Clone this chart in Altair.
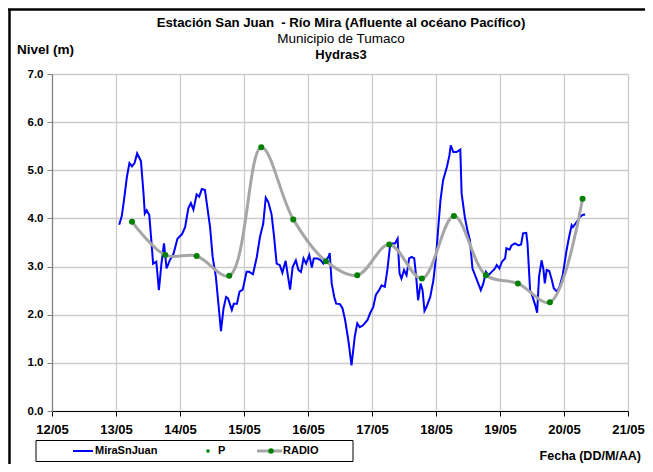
import altair as alt
import pandas as pd

# ---- data (day of May, fractional) ----
mira_day = [13.05, 13.09, 13.125, 13.17, 13.21, 13.25, 13.29, 13.33, 13.39, 13.43, 13.45, 13.48, 13.52,
            13.56, 13.58, 13.63, 13.67, 13.71, 13.75, 13.79, 13.84, 13.90, 13.96, 14.03, 14.08, 14.13,
            14.17, 14.21, 14.26, 14.30, 14.34, 14.39, 14.47, 14.51, 14.56, 14.60, 14.64, 14.68, 14.72,
            14.75, 14.81, 14.84, 14.89, 14.93, 14.98, 15.04, 15.08, 15.14, 15.20, 15.25, 15.30, 15.34,
            15.38, 15.43, 15.47, 15.51, 15.56, 15.60, 15.65, 15.72, 15.76, 15.81, 15.85, 15.89, 15.93,
            15.97, 16.02, 16.06, 16.09, 16.15, 16.20, 16.24, 16.28, 16.32, 16.34, 16.37, 16.41, 16.44,
            16.50, 16.54, 16.58, 16.63, 16.68, 16.73, 16.77, 16.81, 16.86, 16.93, 16.97, 17.02, 17.06,
            17.11, 17.15, 17.20, 17.24, 17.28, 17.32, 17.36, 17.40, 17.43, 17.46, 17.50, 17.54, 17.58,
            17.62, 17.66, 17.69, 17.72, 17.76, 17.79, 17.82, 17.85, 17.91, 17.96, 18.00, 18.04, 18.07,
            18.11, 18.17, 18.21, 18.23, 18.27, 18.32, 18.38, 18.40, 18.45, 18.49, 18.53, 18.57, 18.64,
            18.70, 18.74, 18.78, 18.82, 18.87, 18.91, 18.95, 18.99, 19.03, 19.08, 19.10, 19.15, 19.18,
            19.23, 19.29, 19.33, 19.36, 19.41, 19.43, 19.47, 19.51, 19.55, 19.58, 19.61, 19.65, 19.68,
            19.70, 19.73, 19.77, 19.81, 19.84, 19.89, 19.93, 19.98, 20.04, 20.08, 20.12, 20.14, 20.20,
            20.25, 20.29, 20.33]
mira_val = [3.87, 4.05, 4.38, 4.86, 5.15, 5.08, 5.15, 5.35, 5.19, 4.52, 4.10, 4.17, 4.07,
            3.41, 3.06, 3.10, 2.51, 3.06, 3.48, 2.96, 3.13, 3.27, 3.58, 3.67, 3.82, 4.21,
            4.32, 4.18, 4.50, 4.45, 4.61, 4.59, 3.82, 3.20, 2.79, 2.23, 1.66, 2.13, 2.37,
            2.34, 2.10, 2.23, 2.23, 2.48, 2.52, 2.89, 2.89, 2.84, 3.20, 3.62, 3.89, 4.43,
            4.34, 4.09, 3.62, 3.06, 3.03, 2.87, 3.12, 2.52, 2.99, 3.13, 2.93, 2.89, 3.17,
            3.06, 3.24, 2.98, 3.17, 3.17, 3.13, 3.06, 3.13, 3.20, 3.28, 2.65, 2.37, 2.23,
            2.22, 2.13, 1.89, 1.47, 0.95, 1.54, 1.82, 1.74, 1.78, 1.89, 2.03, 2.16, 2.41,
            2.51, 2.61, 2.58, 2.93, 3.41, 3.48, 3.48, 3.58, 2.86, 2.75, 2.93, 2.82, 3.17,
            3.20, 3.17, 2.79, 2.30, 2.65, 2.51, 2.08, 2.16, 2.37, 2.72, 3.20, 3.89, 4.38,
            4.79, 5.07, 5.31, 5.52, 5.38, 5.38, 5.43, 4.52, 4.03, 3.76, 3.55, 2.96, 2.72,
            2.51, 2.65, 2.89, 2.82, 2.89, 2.94, 3.03, 2.96, 3.10, 3.17, 3.38, 3.35, 3.44,
            3.48, 3.44, 3.46, 3.69, 3.70, 3.48, 2.51, 2.37, 2.20, 2.04, 2.79, 3.13, 2.93,
            2.65, 2.93, 2.91, 2.72, 2.55, 2.48, 2.58, 2.82, 3.34, 3.62, 3.86, 3.82, 3.93,
            4.03, 4.07, 4.08]

radio_day = [13.25, 13.77, 14.26, 14.77, 15.27, 15.77, 16.28, 16.77, 17.27, 17.78, 18.28, 18.78,
             19.28, 19.78, 20.29]
radio_val = [3.93, 3.24, 3.22, 2.81, 5.48, 3.98, 3.11, 2.82, 3.46, 2.75, 4.05, 2.82,
             2.65, 2.26, 4.41]

x_ticks = [12, 13, 14, 15, 16, 17, 18, 19, 20, 21]
y_ticks = [0, 1, 2, 3, 4, 5, 6, 7]

title_main = "Estación San Juan\u00a0 - Río Mira (Afluente al océano Pacífico)"
title_sub = "Municipio de Tumaco"
title_sub2 = "Hydras3"
y_title = "Nivel (m)"
x_title = "Fecha (DD/M/AA)"
legend_names = ["MiraSnJuan", "P", "RADIO"]

FONT = "Liberation Sans"
W, H = 576, 337

mira = pd.DataFrame({"d": mira_day, "v": mira_val})
radio = pd.DataFrame({"d": radio_day, "v": radio_val})

xs = alt.Scale(domain=[12, 21], nice=False, zero=False)
ys = alt.Scale(domain=[0, 7], nice=False)

xaxis = alt.Axis(values=x_ticks, labelExpr="(datum.value < 10 ? '0' : '') + datum.value + '/05'",
                 title=None, grid=True, gridColor="#cccccc", gridWidth=1.3,
                 domainColor="#000000", domainWidth=1.2, tickColor="#000000", tickSize=5,
                 labelFont=FONT, labelFontSize=13, labelFontWeight="bold", labelColor="#000000",
                 labelPadding=7, labelFlush=False)
yaxis = alt.Axis(values=y_ticks, format=".1f", title=None, grid=True, gridColor="#cccccc",
                 gridWidth=1.3, domainColor="#808080", domainWidth=1.2, tickColor="#808080",
                 tickSize=5, labelFont=FONT, labelFontSize=11.5, labelFontWeight="bold",
                 labelColor="#000000", labelPadding=4)

base_x = alt.X("d:Q", scale=xs, axis=xaxis)
base_y = alt.Y("v:Q", scale=ys, axis=yaxis)

mira_line = alt.Chart(mira).mark_line(color="#0000ff", strokeWidth=2).encode(x=base_x, y=base_y)
radio_line = alt.Chart(radio).mark_line(color="#a6a6a6", strokeWidth=3, interpolate="catmull-rom").encode(
    x=alt.X("d:Q", scale=xs), y=alt.Y("v:Q", scale=ys))
radio_pts = alt.Chart(radio).mark_point(filled=True, shape="circle", color="#008000", size=36, opacity=1).encode(
    x=alt.X("d:Q", scale=xs), y=alt.Y("v:Q", scale=ys))

one = pd.DataFrame({"a": [0]})


def txt(s, x, y, size=12, weight="bold", align="center"):
    return alt.Chart(one).mark_text(text=s, font=FONT, fontSize=size, fontWeight=weight, align=align,
                                    baseline="middle", color="#000000").encode(x=alt.value(x), y=alt.value(y))


titles = [
    txt(title_main, 289, -51, 13.2),
    txt(title_sub, 289, -35, 13.5, "normal"),
    txt(title_sub2, 289, -19, 13),
    txt(y_title, -35, -24, 13.5, align="left"),
    txt(x_title, 589, 382, 12.5, align="right"),
]

# frame (top and left)
frame_top = alt.Chart(one).mark_rule(color="#000000", strokeWidth=2.5).encode(
    x=alt.value(-44), x2=alt.value(593), y=alt.value(-64.5))
frame_left = alt.Chart(one).mark_rule(color="#000000", strokeWidth=2.5).encode(
    x=alt.value(-42.5), y=alt.value(-65), y2=alt.value(400))

# legend box
LY = 377
leg_box = alt.Chart(one).mark_rect(fill="#ffffff", stroke="#000000", strokeWidth=1).encode(
    x=alt.value(-16), x2=alt.value(301), y=alt.value(LY - 10.5), y2=alt.value(LY + 10.5))
leg_blue = alt.Chart(one).mark_rule(color="#0000ff", strokeWidth=2).encode(
    x=alt.value(21), x2=alt.value(41), y=alt.value(LY))
leg_p = alt.Chart(one).mark_square(color="#008000", size=10, opacity=1).encode(
    x=alt.value(156), y=alt.value(LY))
leg_grey = alt.Chart(one).mark_rule(color="#a6a6a6", strokeWidth=3).encode(
    x=alt.value(205), x2=alt.value(230), y=alt.value(LY))
leg_dot = alt.Chart(one).mark_point(filled=True, shape="circle", color="#008000", size=30, opacity=1).encode(
    x=alt.value(219), y=alt.value(LY))
leg_texts = [
    txt(legend_names[0], 43, LY, 11, align="left"),
    txt(legend_names[1], 166, LY, 11, align="left"),
    txt(legend_names[2], 231, LY, 11, align="left"),
]

chart = alt.layer(
    mira_line, radio_line, radio_pts, *titles, frame_top, frame_left,
    leg_box, leg_blue, leg_p, leg_grey, leg_dot, *leg_texts
).properties(
    width=W, height=H,
    autosize=alt.AutoSizeParams(type="none"),
    padding={"left": 44, "top": 66, "right": 17, "bottom": 53},
).configure_view(stroke=None)

chart.save("out.html", embed_options={"renderer": "svg", "actions": False})
